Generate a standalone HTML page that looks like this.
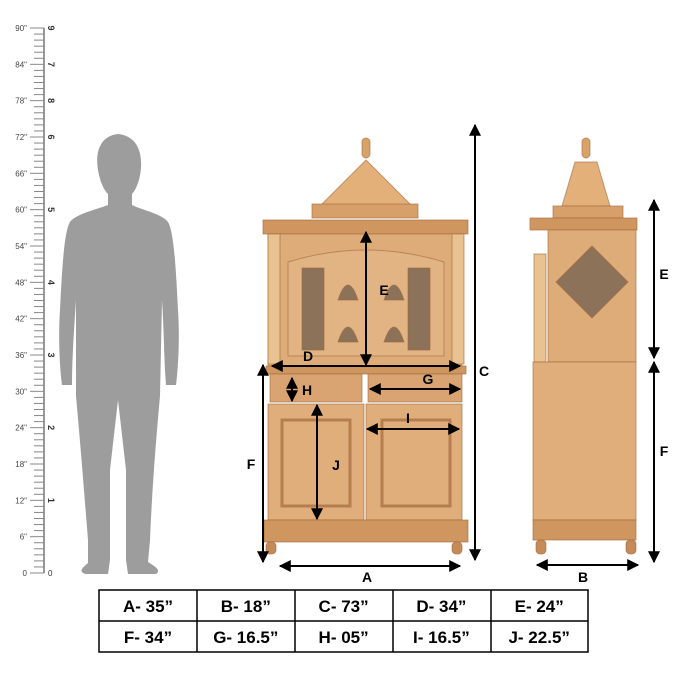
<!DOCTYPE html>
<html><head><meta charset="utf-8"><style>
html,body{margin:0;padding:0;background:#fff;width:679px;height:679px;overflow:hidden}
svg{display:block;font-family:"Liberation Sans",sans-serif}
</style></head><body>
<svg width="679" height="679" viewBox="0 0 679 679">
<defs>
<marker id="ah" viewBox="0 0 10 10" refX="9" refY="5" markerWidth="6" markerHeight="6" orient="auto-start-reverse"><path d="M0,0 L10,5 L0,10 z" fill="#000"/></marker>
</defs>
<g id="ruler"></g>
<path fill="#9d9d9d" d="M118,134 C100,136 95,152 98,170 C100,182 104,190 108,194 L108,205 C95,210 76,214 70,222 C64,232 62,270 60,310 C58,340 60,370 62,385 L72,385 C72,360 74,330 76,300 L76,396 C80,440 84,490 88,540 L88,563 C82,568 78,572 86,574 L108,574 L110,560 L110,470 L118,400 L126,470 L126,560 L128,574 L156,574 C162,570 154,566 148,562 L150,540 C152,490 156,440 160,396 L162,300 C164,330 164,360 166,385 L176,385 C178,370 180,340 178,310 C176,270 174,232 168,222 C162,214 142,210 132,205 L132,194 C136,190 140,180 141,168 C142,150 136,136 118,134 Z"/>
<g stroke="#a0673c" stroke-width="1" stroke-opacity="0.6">
<rect x="362" y="138" width="8" height="20" rx="4" fill="#d9a266"/>
<polygon points="366,160 320,206 412,206" fill="#e4b07a"/>
<rect x="312" y="204" width="106" height="14" fill="#d7a06a"/>
<rect x="263" y="220" width="205" height="14" fill="#cf9660"/>
<rect x="268" y="234" width="194" height="132" fill="#deac78"/>
<rect x="268" y="234" width="12" height="130" fill="#e8c290"/>
<rect x="452" y="234" width="12" height="130" fill="#e8c290"/>
<path d="M288,262 Q366,238 444,262 L444,356 L288,356 Z" fill="#e2b483"/>
<rect x="302" y="268" width="22" height="82" fill="#8c7258"/>
<rect x="408" y="268" width="22" height="82" fill="#8c7258"/>
<path d="M338,300 Q348,270 358,300 Z M338,342 Q348,312 358,342 Z M384,300 Q394,270 404,300 Z M384,342 Q394,312 404,342 Z" fill="#8c7258"/>
<rect x="266" y="366" width="200" height="8" fill="#cf9660"/>
<rect x="270" y="374" width="92" height="28" fill="#d9a472"/>
<rect x="368" y="374" width="94" height="28" fill="#d9a472"/>
<rect x="268" y="404" width="96" height="116" fill="#e0ae7a"/>
<rect x="366" y="404" width="96" height="116" fill="#e0ae7a"/>
<rect x="282" y="420" width="68" height="86" fill="none" stroke="#9a5e34" stroke-width="3"/>
<rect x="382" y="420" width="68" height="86" fill="none" stroke="#9a5e34" stroke-width="3"/>
<rect x="264" y="520" width="204" height="22" fill="#cf9660"/>
<rect x="266" y="542" width="10" height="12" rx="4" fill="#c48a58"/>
<rect x="452" y="542" width="10" height="12" rx="4" fill="#c48a58"/>
</g>
<g stroke="#a0673c" stroke-width="1" stroke-opacity="0.6">
<rect x="582" y="138" width="8" height="20" rx="4" fill="#d9a266"/>
<polygon points="575,162 597,162 610,206 562,206" fill="#e4b07a"/>
<rect x="553" y="206" width="70" height="12" fill="#d7a06a"/>
<rect x="530" y="218" width="107" height="12" fill="#cf9660"/>
<rect x="548" y="230" width="88" height="132" fill="#deac78"/>
<rect x="534" y="254" width="12" height="108" fill="#e8c290"/>
<polygon points="592,246 628,282 592,318 556,282" fill="#8c7258"/>
<rect x="533" y="362" width="103" height="158" fill="#e0ae7a"/>
<rect x="533" y="520" width="103" height="20" fill="#cf9660"/>
<rect x="536" y="540" width="10" height="14" rx="4" fill="#c48a58"/>
<rect x="626" y="540" width="10" height="14" rx="4" fill="#c48a58"/>
</g>
<g id="dims" stroke="#000" stroke-width="2" fill="none"></g>
<g id="dimlabels" font-weight="bold" font-size="14" fill="#000"></g>
<g id="table"></g>
</svg>
<script>
const NS='http://www.w3.org/2000/svg';
function mk(t,a,p){const e=document.createElementNS(NS,t);for(const k in a)e.setAttribute(k,a[k]);p.appendChild(e);return e;}
// ruler
const rulerInches=[0,6,12,18,24,30,36,42,48,54,60,66,72,78,84,90];
const rulerFeet=[[12,'1'],[24,'2'],[36,'3'],[48,'4'],[60,'5'],[72,'6'],[78,'8'],[84,'7'],[90,'9']];
const R=document.getElementById('ruler');
const ry=v=>573-v*(545/90);
const rl=mk('line',{x1:44,y1:28,x2:44,y2:573,stroke:'#777','stroke-width':1.5},R);

for(let i=0;i<=90;i++){
  const big=i%6===0;
  const t=mk('line',{x1:big?30:34,y1:ry(i),x2:44,y2:ry(i),stroke:'#888','stroke-width':1},R);
  
}
rulerInches.forEach(v=>{
  const t=mk('text',{x:27,y:ry(v)+3,'text-anchor':'end','font-size':8,fill:'#444'},R);
  t.textContent=v===0?'0':v+'"';
  
});
rulerFeet.forEach(([v,s])=>{
  const t=mk('text',{x:0,y:0,'font-size':9,'font-weight':'bold',fill:'#333',transform:`translate(48,${ry(v)}) rotate(90)`,'text-anchor':'middle'},R);
  t.textContent=s;
  
});
mk('text',{x:48,y:576,'font-size':8,fill:'#333'},R).textContent='0';
// dimension arrows
const arrows=[['C',475,125,475,560,484,376],['F',263,365,263,562,251,469],['A',280,566,460,566,367,582],['D',272,366,460,366,308,361],['E',366,232,366,365,384,295],['G',370,389,460,389,428,384],['H',292,378,292,401,307,395],['I',367,429,459,429,408,423],['J',317,405,317,519,336,470],['E2',654,200,654,358,664,279],['F2',654,362,654,562,664,456],['B',537,565,638,565,583,582]];
const D=document.getElementById('dims'),L=document.getElementById('dimlabels');
arrows.forEach(a=>{
  const l=mk('line',{x1:a[1],y1:a[2],x2:a[3],y2:a[4],'marker-start':'url(#ah)','marker-end':'url(#ah)'},D);
  
  const t=mk('text',{x:a[5],y:a[6],'text-anchor':'middle'},L);
  t.textContent=a[0][0];
  
});
// table
const cells=[['A- 35”','B- 18”','C- 73”','D- 34”','E- 24”'],['F- 34”','G- 16.5”','H- 05”','I- 16.5”','J- 22.5”']];
const T=document.getElementById('table');
const bx=mk('rect',{x:99,y:590,width:489,height:62,fill:'#fff',stroke:'#000','stroke-width':1.5},T);

mk('line',{x1:99,y1:621,x2:588,y2:621,stroke:'#000','stroke-width':1.5},T);
[197,295,393,491].forEach(x=>mk('line',{x1:x,y1:590,x2:x,y2:652,stroke:'#000','stroke-width':1.5},T));
cells.forEach((row,r)=>row.forEach((s,c)=>{
  const t=mk('text',{x:148+c*97.8,y:612+r*31,'text-anchor':'middle','font-size':17,'font-weight':'bold',fill:'#000'},T);
  t.textContent=s;
  
}));
</script>
</body></html>
